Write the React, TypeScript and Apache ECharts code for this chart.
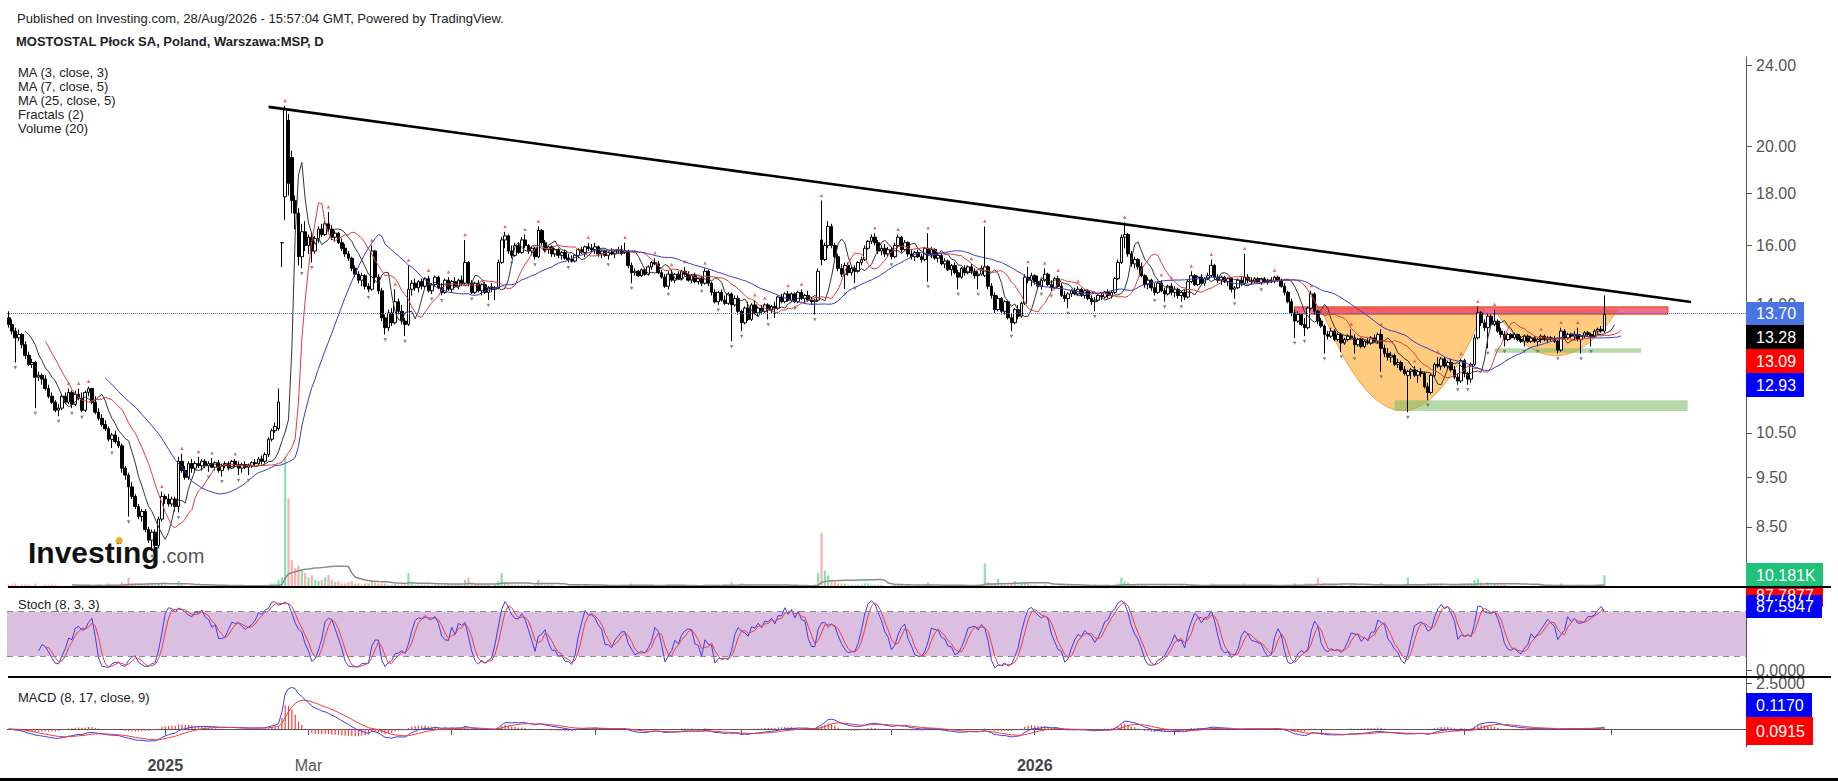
import React, { useEffect, useRef } from "react";
import * as echarts from "echarts";

const FONT = 'Arial, "Liberation Sans", Helvetica, sans-serif';

// ---------- DATA: daily candles [open, high, low, close, volume (thousands)] ----------
const Q4_2024 = [
  [13.6, 13.8, 13.3, 13.4, 2], [13.4, 13.55, 13.1, 13.2, 2], [13.2, 13.3, 12.3, 13.0, 3], [13.0, 13.25, 12.9, 13.1, 1],
  [13.1, 13.15, 12.7, 12.8, 2], [12.8, 12.9, 12.4, 12.5, 2], [12.5, 12.6, 12.2, 12.25, 2], [12.25, 12.4, 12.15, 12.3, 1],
  [12.3, 12.35, 11.1, 11.9, 3], [11.9, 12.05, 11.8, 11.95, 1], [11.95, 12.0, 11.7, 11.85, 1], [11.85, 11.95, 11.55, 11.6, 2],
  [11.6, 11.7, 11.35, 11.4, 2], [11.4, 11.5, 11.2, 11.25, 2], [11.25, 11.3, 11.0, 11.05, 2], [11.05, 11.2, 10.9, 11.1, 1],
  [11.1, 11.45, 11.05, 11.4, 1], [11.4, 11.5, 11.2, 11.25, 1], [11.25, 11.6, 11.2, 11.5, 1], [11.5, 11.55, 11.1, 11.2, 1],
  [11.2, 11.55, 11.15, 11.45, 1], [11.45, 11.6, 11.3, 11.35, 1], [11.35, 11.5, 11.0, 11.05, 1], [11.05, 11.55, 11.0, 11.5, 1],
  [11.5, 11.65, 11.4, 11.6, 1], [11.6, 11.62, 11.2, 11.25, 1], [11.25, 11.4, 10.95, 11.0, 2], [11.0, 11.1, 10.8, 10.85, 2],
  [10.85, 10.95, 10.65, 10.7, 2], [10.7, 10.8, 10.55, 10.6, 2], [10.6, 10.65, 10.3, 10.35, 3], [10.35, 10.5, 10.15, 10.45, 2],
  [10.45, 10.55, 10.25, 10.3, 2], [10.3, 10.4, 10.15, 10.2, 2], [10.2, 10.25, 9.6, 9.7, 4], [9.7, 9.75, 9.45, 9.55, 3],
  [9.55, 9.6, 8.7, 9.3, 8], [9.3, 9.4, 9.05, 9.1, 3], [9.1, 9.15, 8.85, 8.9, 3], [8.9, 8.95, 8.65, 8.7, 3],
  [8.7, 8.85, 8.6, 8.8, 2], [8.8, 8.85, 8.4, 8.45, 3], [8.45, 8.5, 8.2, 8.25, 3], [8.25, 8.45, 8.05, 8.4, 3],
  [8.4, 8.45, 8.1, 8.15, 2], [8.15, 8.7, 8.1, 8.65, 3], [8.65, 9.2, 8.6, 9.1, 3],
];
const JAN_FEB_2025 = [
  [9.1, 9.15, 8.95, 9.05, 2], [9.05, 9.15, 8.9, 8.95, 1], [8.95, 9.1, 8.9, 9.05, 1], [9.05, 9.1, 8.8, 8.9, 1],
  [8.9, 9.95, 8.78, 9.85, 5], [9.85, 10.02, 9.6, 9.65, 2], [9.65, 9.75, 9.45, 9.5, 1], [9.5, 9.85, 9.45, 9.8, 1],
  [9.8, 9.9, 9.6, 9.7, 1], [9.7, 9.85, 9.6, 9.8, 1], [9.8, 9.95, 9.7, 9.75, 1], [9.75, 9.9, 9.65, 9.85, 1],
  [9.85, 9.9, 9.7, 9.75, 1], [9.75, 9.85, 9.62, 9.8, 1], [9.8, 9.92, 9.7, 9.72, 1], [9.72, 9.85, 9.65, 9.82, 1],
  [9.82, 9.88, 9.6, 9.65, 1], [9.65, 9.8, 9.52, 9.75, 1], [9.75, 9.85, 9.7, 9.8, 1], [9.8, 9.85, 9.65, 9.7, 1],
  [9.7, 9.88, 9.68, 9.85, 1], [9.85, 9.9, 9.72, 9.78, 1], [9.78, 9.85, 9.55, 9.7, 1],
  [9.7, 9.82, 9.6, 9.78, 1], [9.78, 9.85, 9.68, 9.72, 1], [9.72, 9.8, 9.55, 9.75, 1], [9.75, 9.85, 9.7, 9.82, 1],
  [9.82, 9.9, 9.72, 9.8, 1], [9.8, 9.95, 9.75, 9.9, 1], [9.9, 9.98, 9.78, 9.85, 1], [9.85, 10.05, 9.8, 10.0, 2],
  [10.0, 10.4, 9.95, 10.35, 2], [10.35, 10.6, 10.3, 10.55, 3], [10.55, 10.75, 10.5, 10.65, 3], [10.6, 11.6, 10.55, 11.25, 6],
  [16.1, 16.12, 15.25, 16.1, 8], [17.85, 21.9, 16.93, 21.75, 110], [21.2, 21.5, 17.9, 18.4, 75], [19.5, 19.8, 17.2, 17.7, 23],
  [17.7, 17.9, 16.6, 17.2, 16], [17.2, 17.4, 15.3, 15.6, 18], [15.6, 16.8, 15.2, 16.5, 14], [16.5, 16.9, 15.8, 16.0, 12],
];
const MAR_APR_2025 = [
  [16.0, 16.4, 15.7, 16.3, 8], [16.3, 16.45, 15.4, 15.8, 10], [15.8, 16.35, 15.7, 16.25, 6], [16.25, 16.7, 16.1, 16.6, 5],
  [16.6, 16.8, 16.3, 16.4, 6], [16.4, 16.9, 16.35, 16.8, 8], [16.8, 17.25, 16.5, 16.6, 10], [16.6, 16.75, 16.2, 16.3, 6],
  [16.3, 16.55, 16.15, 16.45, 4], [16.45, 16.5, 16.05, 16.1, 5], [16.1, 16.25, 15.8, 15.9, 3], [15.9, 16.05, 15.6, 15.7, 3],
  [15.7, 15.8, 15.45, 15.55, 4], [15.55, 15.6, 15.1, 15.2, 5], [15.2, 15.3, 14.9, 15.0, 3], [15.0, 15.1, 14.7, 14.8, 3],
  [14.8, 15.05, 14.6, 14.95, 2], [14.95, 15.0, 14.5, 14.6, 3], [14.6, 14.7, 14.4, 14.5, 3], [14.5, 16.0, 14.45, 15.8, 6],
  [15.8, 15.85, 14.7, 14.9, 4],
  [14.9, 15.0, 14.35, 14.45, 3], [14.45, 14.55, 13.5, 13.6, 3], [13.6, 13.7, 13.1, 13.3, 3], [13.3, 13.85, 13.2, 13.75, 2],
  [13.75, 13.9, 13.35, 13.45, 2], [13.45, 14.5, 13.4, 14.1, 3], [14.1, 14.2, 13.7, 13.8, 2], [13.8, 14.0, 13.4, 13.5, 2],
  [13.5, 13.6, 13.05, 13.4, 2], [13.4, 15.3, 13.35, 14.5, 12], [14.5, 14.8, 14.3, 14.7, 3], [14.7, 14.85, 14.45, 14.55, 2],
  [14.55, 14.8, 14.4, 14.75, 2], [14.75, 14.85, 14.5, 14.6, 2], [14.6, 14.9, 14.55, 14.85, 2], [14.85, 14.95, 14.4, 14.45, 2],
  [14.45, 14.7, 14.35, 14.65, 1], [14.65, 14.95, 14.6, 14.9, 2], [14.9, 14.95, 14.5, 14.55, 2], [14.55, 14.7, 14.3, 14.4, 2],
  [14.4, 14.85, 14.35, 14.8, 2], [14.8, 14.9, 14.45, 14.5, 2],
];
const MAY_JUN_2025 = [
  [14.5, 14.8, 14.4, 14.75, 2], [14.75, 14.9, 14.55, 14.6, 2], [14.6, 14.85, 14.5, 14.8, 2], [14.8, 14.95, 14.6, 14.7, 2],
  [14.7, 16.2, 14.65, 15.4, 6], [15.4, 15.45, 14.6, 14.7, 8], [14.7, 14.8, 14.35, 14.4, 3], [14.4, 14.75, 14.35, 14.7, 2],
  [14.7, 14.8, 14.4, 14.45, 2], [14.45, 14.7, 14.3, 14.65, 2], [14.65, 14.75, 14.35, 14.4, 2], [14.4, 14.6, 14.15, 14.55, 2],
  [14.55, 14.7, 14.4, 14.5, 1], [14.5, 14.6, 14.15, 14.55, 2], [14.55, 15.5, 14.5, 15.4, 5], [15.4, 16.3, 15.35, 16.2, 12],
  [16.2, 16.5, 15.9, 16.35, 4], [16.35, 16.4, 15.7, 15.8, 3], [15.8, 16.0, 15.55, 15.65, 2], [15.65, 16.1, 15.6, 16.0, 2],
  [16.0, 16.1, 15.7, 15.75, 2], [15.75, 16.3, 15.7, 16.2, 2],
  [16.2, 16.4, 15.9, 16.0, 2], [16.0, 16.05, 15.7, 15.8, 2], [15.8, 15.95, 15.65, 15.9, 1], [15.9, 15.95, 15.5, 15.6, 2],
  [15.6, 16.7, 15.55, 16.55, 6], [16.55, 16.6, 16.0, 16.1, 3], [16.1, 16.2, 15.75, 15.85, 2], [15.85, 16.0, 15.7, 15.95, 2],
  [15.95, 16.0, 15.6, 15.7, 2], [15.7, 15.9, 15.6, 15.85, 1], [15.85, 15.9, 15.55, 15.65, 1], [15.65, 15.8, 15.5, 15.75, 1],
  [15.75, 15.85, 15.5, 15.55, 1], [15.55, 15.7, 15.4, 15.5, 1], [15.5, 15.65, 15.4, 15.45, 2], [15.45, 15.7, 15.4, 15.65, 1],
  [15.65, 15.9, 15.55, 15.85, 2], [15.85, 15.95, 15.7, 15.75, 1], [15.75, 16.0, 15.6, 15.95, 2], [15.95, 16.1, 15.8, 15.9, 2],
  [15.9, 16.05, 15.75, 15.85, 1],
];
const JUL_AUG_2025 = [
  [15.85, 16.1, 15.7, 15.95, 2], [15.95, 16.0, 15.6, 15.7, 1], [15.7, 15.85, 15.55, 15.8, 1], [15.8, 15.85, 15.6, 15.65, 1],
  [15.65, 15.8, 15.5, 15.75, 1], [15.75, 15.9, 15.65, 15.7, 1], [15.7, 15.85, 15.55, 15.8, 1], [15.8, 15.95, 15.7, 15.85, 1],
  [15.85, 16.0, 15.65, 15.75, 2], [15.75, 16.1, 15.7, 15.8, 2], [15.8, 15.85, 15.2, 15.3, 2], [15.3, 15.4, 14.7, 15.05, 3],
  [15.05, 15.2, 14.95, 15.1, 1], [15.1, 15.15, 14.9, 14.95, 1], [14.95, 15.2, 14.9, 15.15, 1], [15.15, 15.2, 14.95, 15.0, 1],
  [15.0, 15.3, 14.95, 15.25, 1], [15.25, 15.45, 15.15, 15.4, 2], [15.4, 15.55, 15.3, 15.35, 1], [15.35, 15.45, 15.0, 15.05, 1],
  [15.05, 15.15, 14.85, 14.9, 1], [14.9, 15.0, 14.55, 14.6, 2], [14.6, 15.1, 14.5, 15.0, 2],
  [15.0, 15.15, 14.75, 14.8, 1], [14.8, 15.05, 14.7, 15.0, 1], [15.0, 15.1, 14.8, 14.85, 1], [14.85, 15.15, 14.8, 15.1, 1],
  [15.1, 15.25, 14.95, 15.0, 1], [15.0, 15.1, 14.75, 14.8, 1], [14.8, 15.0, 14.7, 14.95, 1], [14.95, 15.05, 14.7, 14.75, 1],
  [14.75, 14.9, 14.65, 14.85, 1], [14.85, 14.95, 14.6, 14.7, 1], [14.7, 15.2, 14.65, 15.1, 2], [15.1, 15.15, 14.6, 14.7, 2],
  [14.7, 14.75, 14.3, 14.4, 2], [14.4, 14.5, 14.05, 14.1, 2], [14.1, 14.45, 14.0, 14.4, 2], [14.4, 14.5, 14.1, 14.15, 1],
  [14.15, 14.3, 14.0, 14.05, 2], [14.05, 14.4, 14.0, 14.35, 1], [14.35, 14.4, 12.9, 14.0, 4], [14.0, 14.3, 13.95, 14.2, 2],
  [14.2, 14.3, 13.7, 13.8, 2],
];
const SEP_OCT_2025 = [
  [13.8, 13.85, 13.2, 13.45, 3], [13.45, 13.95, 13.4, 13.9, 2], [13.9, 14.1, 13.5, 13.55, 2], [13.55, 14.05, 13.5, 14.0, 2],
  [14.0, 14.15, 13.7, 13.75, 1], [13.75, 13.95, 13.65, 13.9, 1], [13.9, 14.0, 13.7, 13.8, 1], [13.8, 14.05, 13.75, 14.0, 1],
  [14.0, 14.05, 13.55, 13.85, 1], [13.85, 14.0, 13.75, 13.95, 1], [13.95, 14.1, 13.6, 13.9, 1], [13.9, 14.3, 13.85, 14.25, 2],
  [14.25, 14.35, 14.05, 14.1, 1], [14.1, 14.4, 14.05, 14.35, 1], [14.35, 14.45, 14.1, 14.15, 1], [14.15, 14.4, 14.1, 14.35, 1],
  [14.35, 14.4, 14.05, 14.1, 1], [14.1, 14.45, 14.05, 14.4, 1], [14.4, 14.5, 14.15, 14.2, 1], [14.2, 14.35, 14.05, 14.3, 1],
  [14.3, 14.45, 14.1, 14.15, 1], [14.15, 14.25, 14.0, 14.1, 1],
  [14.1, 14.2, 13.7, 14.15, 2], [14.15, 15.2, 14.1, 15.1, 12], [16.2, 17.7, 15.3, 15.5, 46], [15.5, 16.1, 15.45, 16.0, 14],
  [16.0, 16.9, 15.9, 16.7, 10], [16.7, 16.8, 15.9, 16.0, 6], [16.0, 16.1, 15.5, 15.6, 4], [15.6, 15.7, 15.1, 15.2, 3],
  [15.2, 15.35, 14.9, 15.0, 3], [15.0, 15.4, 14.5, 15.3, 3], [15.3, 15.4, 14.95, 15.05, 2], [15.05, 15.25, 14.95, 15.2, 2],
  [15.2, 15.3, 14.7, 15.1, 2], [15.1, 15.45, 15.05, 15.4, 2], [15.4, 15.6, 15.3, 15.5, 2], [15.5, 16.0, 15.45, 15.9, 3],
  [15.9, 16.2, 15.85, 16.15, 3], [16.15, 16.4, 16.05, 16.3, 2], [16.3, 16.45, 16.0, 16.1, 2], [16.1, 16.2, 15.7, 15.8, 2],
  [15.8, 16.0, 15.65, 15.9, 2], [15.9, 16.05, 15.6, 15.7, 1], [15.7, 15.95, 15.6, 15.85, 1],
];
const NOV_DEC_2025 = [
  [15.85, 15.95, 15.5, 15.6, 1], [15.6, 16.1, 15.55, 16.0, 2], [16.0, 16.4, 15.9, 16.3, 2], [16.3, 16.35, 15.75, 15.85, 2],
  [15.85, 16.2, 15.8, 16.1, 1], [16.1, 16.15, 15.6, 15.7, 2], [15.7, 15.85, 15.5, 15.6, 1], [15.6, 15.8, 15.45, 15.75, 1],
  [15.75, 15.85, 15.55, 15.6, 1], [15.6, 15.7, 15.4, 15.5, 1], [15.5, 15.95, 15.45, 15.9, 2], [15.9, 16.45, 14.75, 15.7, 4],
  [15.7, 15.95, 15.55, 15.85, 2], [15.85, 15.9, 15.5, 15.55, 1], [15.55, 15.75, 15.4, 15.65, 1], [15.65, 15.7, 15.3, 15.35, 1],
  [15.35, 15.55, 15.2, 15.45, 1], [15.45, 15.5, 15.1, 15.15, 1], [15.15, 15.35, 14.95, 15.3, 1], [15.3, 15.4, 15.0, 15.05, 1],
  [15.05, 15.15, 14.5, 14.9, 2], [14.9, 15.25, 14.85, 15.2, 1], [15.2, 15.3, 14.95, 15.05, 1], [15.05, 15.3, 15.0, 15.25, 1],
  [15.25, 15.35, 15.0, 15.1, 1], [15.1, 15.2, 14.85, 14.95, 1], [14.95, 15.1, 14.5, 15.0, 2], [15.0, 15.3, 14.95, 15.2, 2],
  [14.95, 16.7, 14.9, 15.25, 20], [15.25, 15.3, 14.5, 14.6, 4], [14.6, 14.7, 14.2, 14.3, 3], [14.3, 14.4, 13.75, 13.85, 3],
  [13.85, 14.3, 13.8, 14.2, 7], [14.2, 14.25, 13.7, 13.8, 2], [13.8, 14.15, 13.7, 14.1, 2], [14.1, 14.15, 13.55, 13.6, 2],
  [13.6, 13.75, 13.2, 13.45, 3], [13.45, 13.9, 13.4, 13.85, 5], [13.85, 14.0, 13.55, 13.65, 2], [13.65, 14.1, 13.6, 14.05, 3],
  [14.05, 15.0, 14.0, 14.9, 4], [14.9, 15.25, 14.7, 14.8, 3], [14.8, 15.05, 14.6, 14.95, 2],
];
const JAN_FEB_2026 = [
  [14.95, 15.0, 14.65, 14.75, 2], [14.75, 14.95, 14.55, 14.6, 1], [14.6, 14.85, 14.5, 14.8, 1], [14.8, 15.2, 14.75, 15.0, 2],
  [15.0, 15.05, 14.6, 14.65, 1], [14.65, 14.8, 14.45, 14.55, 1], [14.55, 14.9, 14.5, 14.85, 1], [14.85, 14.95, 14.55, 14.6, 1],
  [14.6, 14.7, 14.25, 14.3, 2], [14.3, 14.45, 14.1, 14.2, 1], [14.2, 14.4, 13.9, 14.35, 2], [14.35, 14.5, 14.25, 14.45, 1],
  [14.45, 14.55, 14.3, 14.35, 1], [14.35, 14.6, 14.3, 14.5, 1], [14.5, 14.55, 14.25, 14.3, 1], [14.3, 14.5, 14.2, 14.45, 1],
  [14.45, 14.5, 14.15, 14.2, 1], [14.2, 14.3, 14.0, 14.1, 1], [14.1, 14.25, 13.8, 14.15, 2], [14.15, 14.35, 14.1, 14.3, 1],
  [14.3, 14.4, 14.15, 14.25, 1], [14.25, 14.45, 14.2, 14.4, 1],
  [14.4, 14.5, 14.2, 14.3, 1], [14.3, 14.45, 14.2, 14.4, 1], [14.4, 14.9, 14.35, 14.85, 2], [14.85, 15.5, 14.8, 15.4, 3],
  [15.4, 16.4, 15.35, 16.3, 8], [16.3, 16.85, 15.9, 16.4, 5], [16.4, 16.45, 15.6, 15.7, 4], [15.7, 15.8, 15.25, 15.35, 2],
  [15.35, 15.6, 15.2, 15.5, 2], [15.5, 15.55, 15.15, 15.25, 2], [15.25, 15.4, 14.9, 14.95, 2], [14.95, 15.0, 14.55, 14.65, 2],
  [14.65, 14.9, 14.5, 14.8, 1], [14.8, 14.85, 14.45, 14.55, 1], [14.55, 14.7, 14.3, 14.4, 1], [14.4, 14.75, 14.35, 14.7, 1],
  [14.7, 14.8, 14.4, 14.45, 1], [14.45, 14.55, 14.1, 14.35, 2], [14.35, 14.65, 14.3, 14.6, 1], [14.6, 14.7, 14.3, 14.4, 1],
];
const MAR_APR_2026 = [
  [14.4, 14.6, 14.25, 14.5, 1], [14.5, 14.55, 14.2, 14.3, 1], [14.3, 14.45, 14.1, 14.4, 2], [14.4, 14.5, 14.15, 14.25, 1],
  [14.25, 14.8, 14.2, 14.75, 2], [14.75, 15.1, 14.7, 14.95, 2], [14.95, 15.0, 14.6, 14.65, 1], [14.65, 14.95, 14.6, 14.9, 1],
  [14.9, 15.0, 14.65, 14.7, 1], [14.7, 14.9, 14.6, 14.85, 1], [14.85, 15.05, 14.8, 14.95, 2], [14.95, 15.5, 14.9, 15.3, 3],
  [15.3, 15.35, 14.8, 14.9, 2], [14.9, 15.0, 14.7, 14.8, 1], [14.8, 14.95, 14.65, 14.9, 1], [14.9, 14.95, 14.7, 14.75, 1],
  [14.75, 14.9, 14.6, 14.85, 1], [14.85, 14.9, 14.4, 14.5, 2], [14.5, 14.6, 14.2, 14.55, 2], [14.55, 14.85, 14.5, 14.8, 1],
  [14.8, 14.9, 14.6, 14.7, 1], [14.7, 15.7, 14.65, 14.9, 3],
  [14.9, 15.0, 14.7, 14.8, 1], [14.8, 14.9, 14.65, 14.75, 1], [14.75, 14.9, 14.7, 14.85, 1], [14.85, 14.9, 14.7, 14.72, 1],
  [14.72, 14.88, 14.65, 14.85, 1], [14.85, 14.9, 14.7, 14.75, 1], [14.75, 14.85, 14.65, 14.8, 1], [14.8, 14.9, 14.7, 14.78, 1],
  [14.78, 14.95, 14.7, 14.9, 1], [14.9, 14.95, 14.75, 14.8, 1], [14.8, 14.85, 14.55, 14.6, 1], [14.6, 14.7, 14.3, 14.4, 2],
  [14.4, 14.45, 14.05, 14.1, 2], [14.1, 14.2, 13.65, 13.75, 2], [13.75, 13.85, 13.0, 13.5, 3], [13.5, 13.8, 13.45, 13.7, 2],
  [13.7, 13.75, 13.35, 13.4, 2], [13.4, 13.6, 13.05, 13.3, 3], [13.3, 13.95, 13.25, 13.9, 3], [13.9, 14.45, 13.85, 14.35, 3],
  [14.35, 14.4, 13.7, 13.8, 3], [13.8, 13.85, 13.4, 13.5, 8],
];
const MAY_JUN_2026 = [
  [13.5, 13.6, 13.3, 13.35, 2], [13.35, 13.4, 12.55, 13.1, 3], [13.1, 13.2, 12.95, 13.05, 2], [13.05, 13.3, 13.0, 13.2, 2],
  [13.2, 13.25, 12.9, 12.95, 2], [12.95, 13.15, 12.9, 13.1, 1], [13.1, 13.15, 12.6, 12.85, 2], [12.85, 13.0, 12.8, 12.95, 1],
  [12.95, 13.1, 12.9, 13.05, 1], [13.05, 13.25, 12.95, 13.0, 2], [13.0, 13.1, 12.55, 12.8, 2], [12.8, 13.0, 12.75, 12.95, 1],
  [12.95, 13.0, 12.7, 12.75, 1], [12.75, 12.95, 12.7, 12.9, 1], [12.9, 13.0, 12.8, 12.85, 1], [12.85, 13.05, 12.8, 13.0, 1],
  [13.0, 13.1, 12.85, 12.9, 1], [12.9, 13.15, 12.85, 13.1, 2], [13.1, 13.25, 12.05, 12.7, 4], [12.7, 12.8, 12.45, 12.55, 2],
  [12.55, 12.7, 12.35, 12.45, 2],
  [12.45, 12.6, 12.3, 12.5, 2], [12.5, 12.55, 12.2, 12.25, 2], [12.25, 12.4, 12.15, 12.3, 1], [12.3, 12.35, 12.05, 12.1, 2],
  [12.1, 12.2, 11.95, 12.0, 2], [11.95, 12.1, 11.0, 12.05, 8], [12.05, 12.15, 11.85, 12.1, 2], [12.1, 12.2, 11.9, 11.95, 1],
  [11.95, 12.1, 11.75, 12.05, 2], [12.05, 12.15, 11.9, 12.0, 1], [12.0, 12.05, 11.6, 11.65, 2], [11.65, 11.75, 11.3, 11.5, 3],
  [11.5, 12.0, 11.45, 11.95, 3], [11.95, 12.3, 11.9, 12.25, 2], [12.25, 12.45, 12.15, 12.2, 2], [12.2, 12.45, 12.1, 12.4, 2],
  [12.4, 12.45, 12.15, 12.2, 1], [12.2, 12.35, 12.1, 12.3, 1], [12.3, 12.4, 12.05, 12.1, 2], [12.1, 12.2, 11.85, 11.9, 2],
  [11.9, 12.0, 11.7, 11.8, 2], [11.8, 12.4, 11.75, 12.35, 3],
];
const JUL_AUG_2026 = [
  [12.35, 12.4, 11.9, 12.0, 2], [12.0, 12.05, 11.7, 11.85, 2], [11.85, 12.3, 11.75, 12.25, 3], [12.25, 13.1, 12.2, 13.0, 6],
  [13.0, 13.95, 12.95, 13.75, 7], [13.75, 13.8, 13.35, 13.45, 4], [13.45, 13.55, 13.2, 13.3, 3], [13.3, 13.75, 12.7, 13.65, 4],
  [13.65, 13.7, 13.35, 13.4, 2], [13.4, 13.85, 13.35, 13.5, 3], [13.5, 13.55, 13.15, 13.2, 2], [13.2, 13.3, 13.0, 13.1, 2],
  [13.1, 13.2, 12.75, 12.95, 2], [12.95, 13.15, 12.9, 13.1, 1], [13.1, 13.15, 12.95, 13.0, 1], [13.0, 13.15, 12.95, 13.1, 1],
  [13.1, 13.12, 12.9, 12.95, 1], [12.95, 13.05, 12.85, 12.9, 1], [12.9, 13.1, 12.75, 13.05, 1], [13.05, 13.1, 12.85, 12.9, 1],
  [12.9, 13.05, 12.85, 13.0, 1], [13.0, 13.05, 12.85, 12.9, 1], [12.9, 13.0, 12.75, 12.95, 1],
  [12.95, 13.1, 12.85, 13.05, 1], [13.05, 13.1, 12.9, 12.95, 1], [12.95, 13.05, 12.85, 13.0, 1], [13.0, 13.05, 12.9, 12.98, 1],
  [12.98, 13.05, 12.85, 12.9, 1], [12.9, 12.95, 12.55, 12.65, 2], [12.65, 13.3, 12.6, 13.2, 3], [13.2, 13.25, 12.95, 13.0, 2],
  [13.0, 13.15, 12.95, 13.1, 1], [13.1, 13.15, 13.0, 13.05, 1], [13.05, 13.2, 12.95, 13.1, 1], [13.1, 13.3, 12.9, 12.95, 2],
  [12.95, 13.1, 12.55, 13.05, 2], [13.05, 13.2, 13.0, 13.15, 1], [13.15, 13.2, 13.05, 13.1, 1], [13.1, 13.15, 12.75, 13.05, 1],
  [13.05, 13.25, 13.0, 13.2, 2], [13.2, 13.3, 13.1, 13.25, 2], [13.25, 13.35, 13.15, 13.2, 2], [13.2, 14.3, 13.15, 13.7, 10],
];

const SEGMENTS = [
  Q4_2024, JAN_FEB_2025, MAR_APR_2025, MAY_JUN_2025, JUL_AUG_2025, SEP_OCT_2025,
  NOV_DEC_2025, JAN_FEB_2026, MAR_APR_2026, MAY_JUN_2026, JUL_AUG_2026,
];

const FIRST_DAY = [2024, 9, 28]; // 28 Oct 2024
const SLOT_COUNT = 522; // weekdays on the time axis, incl. empty space to the right
const FIRST_TICK = "2025-01-01";
const TICK_MONTHS = [0, 2, 4, 6, 8, 10];
const TICK_LABELS = ["2025", "Mar", "", "", "", "", "2026", "", "", "", ""];
const PRICE_TICKS = [24, 20, 18, 16, 14, 10.5, 9.5, 8.5];
const PRICE_RANGE = [7.426, 24.44];
const STOCH_RANGE = [-8.6, 113.6];
const STOCH_TICKS = [0];
const MACD_RANGE = [-0.98, 2.83];
const MACD_TICKS = [2.5];
const VOLUME_MAX = 449;
const LAST_PRICE_LINE = 13.7;

// drawings (bar index, price)
const TRENDLINE = [[78, 21.85], [505, 14.09]];
const CUPS = [[394, 443, 13.89, 11.04], [446, 483, 13.84, 12.49]]; // [start, end, rim, bottom]
const ZONES = [[386, 498, 13.93, 13.72], [446, 490, 12.7, 12.57], [416, 504, 11.3, 11.03]]; // [start, end, top, bottom]

const HEADER = "Published on Investing.com, 28/Aug/2026 - 15:57:04 GMT, Powered by TradingView.";
const TITLE = "MOSTOSTAL Płock SA, Poland, Warszawa:MSP, D";
const LEGEND_LINES = ["MA (3, close, 3)", "MA (7, close, 5)", "MA (25, close, 5)", "Fractals (2)", "Volume (20)"];
const STOCH_TITLE = "Stoch (8, 3, 3)";
const MACD_TITLE = "MACD (8, 17, close, 9)";
const PRICE_BADGES = ["13.70", "13.28", "13.09", "12.93"];
const VOLUME_BADGE = "10.181K";
const STOCH_BADGES = ["87.7877", "87.5947"];
const MACD_BADGES = ["0.1170", "0.0915"];

// ---------- styles ----------
const ZONE_FILLS = ["rgba(242,54,90,0.72)", "rgba(120,185,100,0.55)", "rgba(120,185,100,0.55)"];
const ZONE_STROKES = ["#e8583a", "none", "none"];
const VOL_UP = "rgba(38,200,120,0.55)";
const VOL_DOWN = "rgba(240,80,80,0.45)";

function buildDates(): string[] {
  const out: string[] = [];
  const d = new Date(Date.UTC(FIRST_DAY[0], FIRST_DAY[1], FIRST_DAY[2]));
  while (out.length < SLOT_COUNT) {
    const wd = d.getUTCDay();
    if (wd !== 0 && wd !== 6) out.push(d.toISOString().slice(0, 10));
    d.setUTCDate(d.getUTCDate() + 1);
  }
  return out;
}

function sma(arr: (number | null)[], len: number): (number | null)[] {
  return arr.map((_, i) => {
    if (i < len - 1) return null;
    let s = 0;
    for (let k = i - len + 1; k <= i; k++) {
      const v = arr[k];
      if (v == null) return null;
      s += v;
    }
    return s / len;
  });
}

function ema(arr: number[], len: number): number[] {
  const k = 2 / (len + 1);
  let e = arr[0];
  return arr.map((v, i) => (e = i === 0 ? v : e + k * (v - e)));
}

function buildOption() {
  const bars = ([] as number[][]).concat(...SEGMENTS);
  const n = bars.length;
  const dates = buildDates();
  const L = Math.log;
  const highs = bars.map((b) => b[1]);
  const lows = bars.map((b) => b[2]);
  const closes = bars.map((b) => b[3]);
  const vols = bars.map((b) => b[4]);

  const candles = bars.map((b) => [L(b[0]), L(b[3]), L(b[2]), L(b[1])]);

  const shifted = (vals: (number | null)[], off: number, tf: (v: number) => number) => {
    const out: (number | string)[] = new Array(SLOT_COUNT).fill("-");
    vals.forEach((v, i) => {
      if (v != null && i + off < SLOT_COUNT) out[i + off] = tf(v);
    });
    return out;
  };
  const ma3 = shifted(sma(closes, 3), 3, L);
  const ma7 = shifted(sma(closes, 7), 5, L);
  const ma25 = shifted(sma(closes, 25), 5, L);

  const volItems = bars.map((b) => ({ value: b[4], itemStyle: { color: b[3] >= b[0] ? VOL_UP : VOL_DOWN } }));
  const volMa = shifted(sma(vols, 20), 0, (v) => v);

  // fractals
  const upFr: number[][] = [];
  const dnFr: number[][] = [];
  for (let i = 2; i < n - 2; i++) {
    if (highs[i] > highs[i - 1] && highs[i] > highs[i - 2] && highs[i] >= highs[i + 1] && highs[i] >= highs[i + 2])
      upFr.push([i, L(highs[i]) + 0.012]);
    if (lows[i] < lows[i - 1] && lows[i] < lows[i - 2] && lows[i] <= lows[i + 1] && lows[i] <= lows[i + 2])
      dnFr.push([i, L(lows[i]) - 0.012]);
  }

  // stochastic 8,3,3
  const rawK: (number | null)[] = bars.map((b, i) => {
    if (i < 7) return null;
    let hh = -Infinity, ll = Infinity;
    for (let k = i - 7; k <= i; k++) {
      hh = Math.max(hh, highs[k]);
      ll = Math.min(ll, lows[k]);
    }
    return hh === ll ? 50 : (100 * (b[3] - ll)) / (hh - ll);
  });
  const kLine = sma(rawK, 3);
  const dLine = sma(kLine, 3);

  // MACD 8,17,9
  const e8 = ema(closes, 8);
  const e17 = ema(closes, 17);
  const macd = e8.map((v, i) => v - e17[i]);
  const sig = ema(macd, 9);
  const hist = macd.map((v, i) => v - sig[i]);

  // x ticks: first weekday of every second month, from Jan 2025
  const tickIdx: number[] = [];
  dates.forEach((d, i) => {
    if (i === 0 || d < FIRST_TICK) return;
    const m = parseInt(d.slice(5, 7), 10) - 1;
    const prev = parseInt(dates[i - 1].slice(5, 7), 10) - 1;
    if (m !== prev && TICK_MONTHS.includes(m)) tickIdx.push(i);
  });
  const tickLabel = new Map<number, string>();
  tickIdx.forEach((idx, k) => tickLabel.set(idx, TICK_LABELS[k] || ""));

  const gridL = 7;
  const gridR = 92;
  const grids = [
    { left: gridL, right: gridR, top: 57, height: 530 },
    { left: gridL, right: gridR, top: 57, height: 530 },
    { left: gridL, right: gridR, top: 587, height: 90 },
    { left: gridL, right: gridR, top: 677, height: 70 },
  ];

  const hiddenX = (gi: number) => ({
    type: "category",
    gridIndex: gi,
    data: dates,
    boundaryGap: true,
    show: false,
  });

  const axisGray = "#555";
  const yLabel = { color: axisGray, fontSize: 16, fontFamily: FONT, margin: 10 };

  const priceTicksLn = PRICE_TICKS.map((p) => L(p));

  const cupRender = (params: any, api: any) => {
    const xs = api.value(0), xe = api.value(1), rim = api.value(2), bot = api.value(3);
    const pL = api.coord([xs, rim]);
    const pR = api.coord([xe, rim]);
    const pB = api.coord([xs, bot]);
    const cx = (pL[0] + pR[0]) / 2;
    const hw = (pR[0] - pL[0]) / 2;
    const depth = pB[1] - pL[1];
    const pts: number[][] = [];
    for (let k = 0; k <= 80; k++) {
      const t = -1 + (2 * k) / 80;
      pts.push([cx + t * hw, pL[1] + depth * (1 - t * t)]);
    }
    return {
      type: "polygon",
      shape: { points: pts },
      style: { fill: "rgba(255,153,0,0.5)", stroke: "#f5a23a", lineWidth: 1 },
    };
  };
  const zoneRender = (params: any, api: any) => {
    const p1 = api.coord([api.value(0), api.value(2)]);
    const p2 = api.coord([api.value(1), api.value(3)]);
    const stroke = ZONE_STROKES[params.dataIndex];
    return {
      type: "rect",
      shape: { x: p1[0], y: p1[1], width: p2[0] - p1[0], height: p2[1] - p1[1] },
      style: { fill: ZONE_FILLS[params.dataIndex], stroke, lineWidth: stroke === "none" ? 0 : 1.5 },
    };
  };

  const txt = (x: number, y: number, text: string, font: string, fill = "#222") => ({
    type: "text",
    z: 100,
    style: { x, y, text, font, fill, textVerticalAlign: "middle", verticalAlign: "middle", textAlign: "left", align: "left" },
  });
  const badge = (y: number, h: number, w: number, text: string, bg: string) => ({
    type: "group",
    z: 100,
    children: [
      { type: "rect", z: 100, shape: { x: 1746, y, width: w, height: h }, style: { fill: bg } },
      {
        type: "text",
        z: 101,
        style: {
          x: 1756, y: y + h / 2, text, font: `16px ${FONT}`, fill: "#fff",
          textVerticalAlign: "middle", verticalAlign: "middle",
        },
      },
    ],
  });

  const graphic: any[] = [
    txt(17, 18, HEADER, `13px ${FONT}`),
    txt(16, 41, TITLE, `bold 13px ${FONT}`),
    ...LEGEND_LINES.map((t, i) => txt(18, 72 + i * 14, t, `13px ${FONT}`)),
    txt(18, 604, STOCH_TITLE, `13px ${FONT}`),
    txt(18, 697, MACD_TITLE, `13px ${FONT}`),
    // Investing.com watermark
    txt(28, 552, "Investing", `bold 30px ${FONT}`, "#111"),
    { type: "circle", z: 101, shape: { cx: 119.2, cy: 540.5, r: 3.4 }, style: { fill: "#f5a623" } },
    txt(161, 556, ".com", `20px ${FONT}`, "#555"),
    // right-hand value badges
    badge(302, 23, 58, PRICE_BADGES[0], "#4a73e3"),
    badge(325, 24, 58, PRICE_BADGES[1], "#000000"),
    badge(349, 24, 58, PRICE_BADGES[2], "#ff0000"),
    badge(373, 24, 58, PRICE_BADGES[3], "#0000ff"),
    badge(583, 24, 77, STOCH_BADGES[0], "#ff0000"),
    badge(563, 24, 77, VOLUME_BADGE, "#20c178"),
    badge(595, 23, 76, STOCH_BADGES[1], "#0000ff"),
    badge(693, 24, 66, MACD_BADGES[0], "#0000ff"),
    badge(717, 28, 67, MACD_BADGES[1], "#ff0000"),
    // pane separators and frame
    { type: "rect", z: 102, shape: { x: 8, y: 586, width: 1823, height: 2 }, style: { fill: "#000" } },
    { type: "rect", z: 102, shape: { x: 8, y: 676, width: 1823, height: 2 }, style: { fill: "#000" } },
    { type: "rect", z: 102, shape: { x: 0, y: 778, width: 1838, height: 3 }, style: { fill: "#000" } },
  ];

  return {
    animation: false,
    backgroundColor: "#ffffff",
    textStyle: { fontFamily: FONT },
    grid: grids,
    xAxis: [
      hiddenX(0),
      hiddenX(1),
      hiddenX(2),
      {
        type: "category",
        gridIndex: 3,
        data: dates,
        boundaryGap: true,
        axisLine: { show: true, lineStyle: { color: axisGray, width: 1 } },
        axisTick: {
          show: true,
          alignWithLabel: true,
          length: 6,
          interval: (i: number) => tickLabel.has(i),
          lineStyle: { color: axisGray },
        },
        axisLabel: {
          show: true,
          interval: (i: number) => tickLabel.has(i),
          formatter: (_v: string, i: number) => {
            const t = tickLabel.get(i) || "";
            if (!t) return "";
            return /^\d{4}$/.test(t) ? `{y|${t}}` : `{m|${t}}`;
          },
          margin: 10,
          rich: {
            y: { fontSize: 16, fontWeight: "bold", color: "#444", fontFamily: FONT },
            m: { fontSize: 16, color: "#555", fontFamily: FONT },
          },
        },
        splitLine: { show: false },
      },
    ],
    yAxis: [
      {
        type: "value",
        gridIndex: 0,
        position: "right",
        min: L(PRICE_RANGE[0]),
        max: L(PRICE_RANGE[1]),
        splitLine: { show: false },
        axisLine: { show: true, lineStyle: { color: axisGray } },
        axisTick: { show: true, length: 6, customValues: priceTicksLn, lineStyle: { color: axisGray } },
        axisLabel: { ...yLabel, customValues: priceTicksLn, formatter: (v: number) => Math.exp(v).toFixed(2) },
      },
      { type: "value", gridIndex: 1, min: 0, max: VOLUME_MAX, show: false },
      {
        type: "value",
        gridIndex: 2,
        position: "right",
        min: STOCH_RANGE[0],
        max: STOCH_RANGE[1],
        splitLine: { show: false },
        axisLine: { show: true, lineStyle: { color: axisGray } },
        axisTick: { show: true, length: 6, customValues: STOCH_TICKS, lineStyle: { color: axisGray } },
        axisLabel: { ...yLabel, customValues: STOCH_TICKS, formatter: (v: number) => v.toFixed(4) },
      },
      {
        type: "value",
        gridIndex: 3,
        position: "right",
        min: MACD_RANGE[0],
        max: MACD_RANGE[1],
        splitLine: { show: false },
        axisLine: { show: true, lineStyle: { color: axisGray } },
        axisTick: { show: true, length: 6, customValues: MACD_TICKS, lineStyle: { color: axisGray } },
        axisLabel: { ...yLabel, customValues: MACD_TICKS, formatter: (v: number) => v.toFixed(4) },
      },
    ],
    graphic,
    series: [
      {
        type: "custom",
        name: "cups",
        xAxisIndex: 0,
        yAxisIndex: 0,
        z: 1,
        silent: true,
        clip: false,
        encode: { x: [0, 1], y: [2, 3] },
        data: CUPS.map((c) => [c[0], c[1], L(c[2]), L(c[3])]),
        renderItem: cupRender,
      },
      {
        type: "custom",
        name: "zones",
        xAxisIndex: 0,
        yAxisIndex: 0,
        z: 1,
        silent: true,
        clip: false,
        encode: { x: [0, 1], y: [2, 3] },
        data: ZONES.map((c) => [c[0], c[1], L(c[2]), L(c[3])]),
        renderItem: zoneRender,
      },
      {
        type: "bar",
        name: "volume",
        xAxisIndex: 1,
        yAxisIndex: 1,
        barWidth: 2.2,
        z: 1,
        silent: true,
        data: volItems,
      },
      {
        type: "line",
        name: "volMA",
        xAxisIndex: 1,
        yAxisIndex: 1,
        data: volMa,
        showSymbol: false,
        silent: true,
        z: 2,
        lineStyle: { color: "#8a8a8a", width: 1.5 },
      },
      {
        type: "candlestick",
        name: "price",
        xAxisIndex: 0,
        yAxisIndex: 0,
        barWidth: 3.2,
        z: 3,
        silent: true,
        data: candles,
        itemStyle: { color: "#ffffff", color0: "#000000", borderColor: "#000000", borderColor0: "#000000", borderWidth: 1 },
        markLine: {
          silent: true,
          symbol: "none",
          label: { show: false },
          lineStyle: { color: "#4a63d8", type: "dotted", width: 1 },
          data: [{ yAxis: L(LAST_PRICE_LINE) }],
        },
      },
      {
        type: "line", name: "MA3", xAxisIndex: 0, yAxisIndex: 0, data: ma3, showSymbol: false, silent: true, z: 4,
        lineStyle: { color: "#333", width: 1 },
      },
      {
        type: "line", name: "MA7", xAxisIndex: 0, yAxisIndex: 0, data: ma7, showSymbol: false, silent: true, z: 4,
        lineStyle: { color: "#e23b3b", width: 1 },
      },
      {
        type: "line", name: "MA25", xAxisIndex: 0, yAxisIndex: 0, data: ma25, showSymbol: false, silent: true, z: 4,
        lineStyle: { color: "#3b3bc4", width: 1 },
      },
      {
        type: "scatter", name: "fractalUp", xAxisIndex: 0, yAxisIndex: 0, data: upFr, symbol: "triangle",
        symbolSize: 3.5, silent: true, z: 4, itemStyle: { color: "#e0483c" },
      },
      {
        type: "scatter", name: "fractalDown", xAxisIndex: 0, yAxisIndex: 0, data: dnFr, symbol: "triangle",
        symbolRotate: 180, symbolSize: 3.5, silent: true, z: 4, itemStyle: { color: "#666666" },
      },
      {
        type: "line", name: "trend", xAxisIndex: 0, yAxisIndex: 0,
        data: TRENDLINE.map((p) => [p[0], L(p[1])]),
        showSymbol: false, silent: true, z: 5,
        lineStyle: { color: "#000", width: 2.6 },
      },
      {
        type: "line", name: "%K", xAxisIndex: 2, yAxisIndex: 2,
        data: shifted(kLine, 0, (v) => v), showSymbol: false, silent: true, z: 3,
        lineStyle: { color: "#3c3cf0", width: 1 },
        markArea: {
          silent: true,
          itemStyle: { color: "#dbbfe1" },
          data: [[{ yAxis: 20 }, { yAxis: 80 }]],
        },
        markLine: {
          silent: true,
          symbol: "none",
          label: { show: false },
          lineStyle: { color: "#8a8a8a", type: [6, 5], width: 1 },
          data: [{ yAxis: 20 }, { yAxis: 80 }],
        },
      },
      {
        type: "line", name: "%D", xAxisIndex: 2, yAxisIndex: 2,
        data: shifted(dLine, 0, (v) => v), showSymbol: false, silent: true, z: 3,
        lineStyle: { color: "#f03c3c", width: 1 },
      },
      {
        type: "bar", name: "hist", xAxisIndex: 3, yAxisIndex: 3,
        data: hist, barWidth: 1.2, silent: true, z: 2,
        itemStyle: { color: "#f04040" },
      },
      {
        type: "line", name: "MACD", xAxisIndex: 3, yAxisIndex: 3,
        data: macd, showSymbol: false, silent: true, z: 3,
        lineStyle: { color: "#3c3cf0", width: 1 },
      },
      {
        type: "line", name: "Signal", xAxisIndex: 3, yAxisIndex: 3,
        data: sig, showSymbol: false, silent: true, z: 3,
        lineStyle: { color: "#f03c3c", width: 1 },
      },
    ],
  };
}

export default function App() {
  const ref = useRef<HTMLDivElement>(null);
  useEffect(() => {
    if (!ref.current) return;
    const chart = echarts.init(ref.current, null, { renderer: "svg" });
    chart.setOption(buildOption() as any);
    return () => chart.dispose();
  }, []);
  return (
    <div
      ref={ref}
      style={{ position: "fixed", left: 0, top: 0, width: 1838, height: 781, background: "#ffffff" }}
    />
  );
}
